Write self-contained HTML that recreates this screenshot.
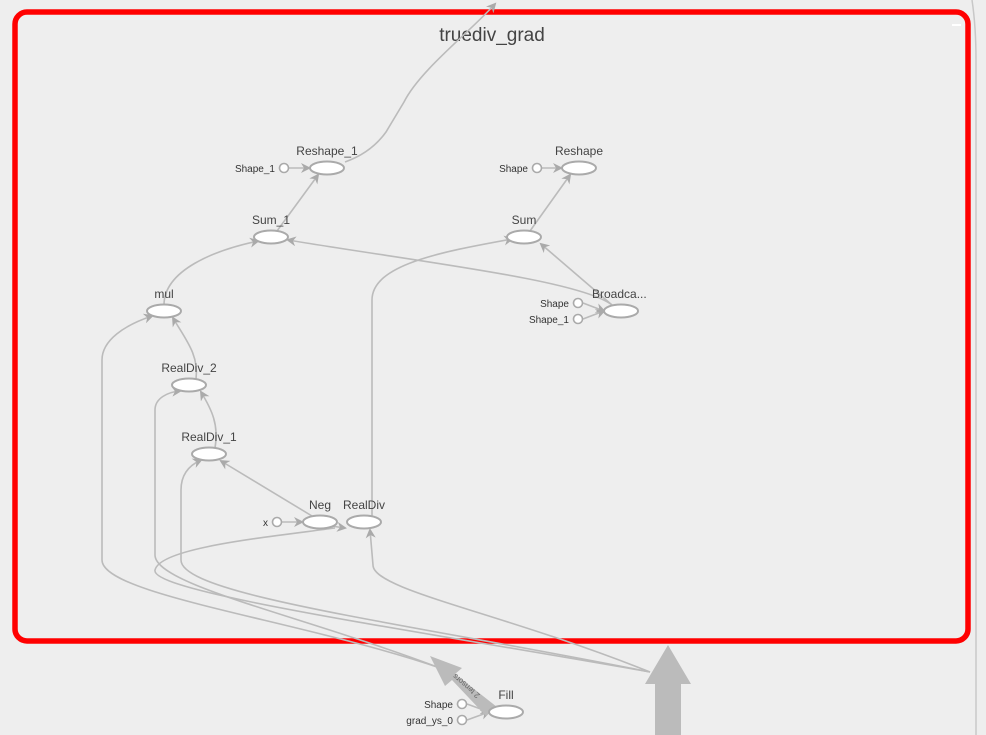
<!DOCTYPE html>
<html><head><meta charset="utf-8"><style>
html,body{margin:0;padding:0;background:#eeeeee;}
svg{display:block;font-family:"Liberation Sans",sans-serif;}
.e{fill:none;stroke:#bbb;stroke-width:1.6;}
.n{fill:#fff;stroke:#aaa;stroke-width:2;}
.c{fill:#fff;stroke:#aaa;stroke-width:1.6;}
.l{fill:#444;font-size:12px;}
.s{fill:#333;font-size:10px;}
</style></head><body>
<svg width="986" height="735" viewBox="0 0 986 735">
<defs>
<marker id="a" markerWidth="10" markerHeight="10" refX="8" refY="5" orient="auto" markerUnits="userSpaceOnUse">
<path d="M0,0 L10,5 L0,10 L3,5 z" fill="#aaa"/></marker>
</defs>
<rect x="0" y="0" width="986" height="735" fill="#eeeeee"/>
<path d="M972,0 C975,20 976,40 976,60 L976,735" fill="none" stroke="#c8c8c8" stroke-width="1.5"/>
<rect x="15" y="12" width="953" height="629" rx="12" fill="#eeeeee" stroke="#ff0000" stroke-width="5.5"/>
<rect x="952" y="24" width="9" height="2" fill="#fff"/>
<text x="492" y="41" text-anchor="middle" fill="#444" font-size="19">truediv_grad</text>

<!-- edges -->
<path class="e" d="M440,668 C300,620 102,595 102,560 L102,360 C102,340 125,325 152,316" marker-end="url(#a)"/>
<path class="e" d="M440,668 C300,615 155,585 155,555 L155,410 C155,398 168,392 180,391" marker-end="url(#a)"/>
<path class="e" d="M650,672 C400,622 181,595 181,560 L181,490 C181,472 192,464 201,460" marker-end="url(#a)"/>
<path class="e" d="M650,672 C400,628 150,592 155,570 C160,548 260,538 335,528"/>
<path class="e" d="M650,672 C500,612 373,590 373,565 L370,530" marker-end="url(#a)"/>
<path class="e" d="M372,516 L372,300 C372,265 440,252 512,239" marker-end="url(#a)"/>
<path class="e" d="M331,526 L345,528" marker-end="url(#a)"/>
<path class="e" d="M312,516 L221,461" marker-end="url(#a)"/>
<path class="e" d="M215,448 C219,425 212,410 201,392" marker-end="url(#a)"/>
<path class="e" d="M196,379 C199,355 186,340 173,318" marker-end="url(#a)"/>
<path class="e" d="M164,305 C164,270 215,250 258,241" marker-end="url(#a)"/>
<path class="e" d="M277,231 L318,175" marker-end="url(#a)"/>
<path class="e" d="M345,162 C362,156 376,146 386,132 L404,102 C420,70 470,32 495,4" marker-end="url(#a)"/>
<path class="e" d="M612,305 C580,280 420,262 288,240" marker-end="url(#a)"/>
<path class="e" d="M612,305 L541,244" marker-end="url(#a)"/>
<path class="e" d="M530,231 L570,175" marker-end="url(#a)"/>
<path class="e" d="M289,168 L309,168" marker-end="url(#a)"/>
<path class="e" d="M542,168 L561,168" marker-end="url(#a)"/>
<path class="e" d="M282,522 L302,522" marker-end="url(#a)"/>
<path class="e" d="M583,303 L604,311" marker-end="url(#a)"/>
<path class="e" d="M583,319 L604,311" marker-end="url(#a)"/>
<path class="e" d="M467,704 L489,712" marker-end="url(#a)"/>
<path class="e" d="M467,720 L489,712" marker-end="url(#a)"/>

<!-- big arrows -->
<path d="M655,735 L655,684 L645,684 L668,645 L691,684 L681,684 L681,735 z" fill="#bbb"/>
<path d="M497,707 L486,716 L452,680 L445,686 L430,656 L462,668 L455,674 z" fill="#bbb"/>
<text x="468" y="684" transform="rotate(221 468 684)" fill="#666" font-size="8" text-anchor="middle">2 tensors</text>

<!-- nodes -->
<ellipse class="n" cx="327" cy="168" rx="17" ry="6.5"/><text class="l" x="327" y="155" text-anchor="middle">Reshape_1</text>
<ellipse class="n" cx="579" cy="168" rx="17" ry="6.5"/><text class="l" x="579" y="155" text-anchor="middle">Reshape</text>
<ellipse class="n" cx="271" cy="237" rx="17" ry="6.5"/><text class="l" x="271" y="224" text-anchor="middle">Sum_1</text>
<ellipse class="n" cx="524" cy="237" rx="17" ry="6.5"/><text class="l" x="524" y="224" text-anchor="middle">Sum</text>
<ellipse class="n" cx="164" cy="311" rx="17" ry="6.5"/><text class="l" x="164" y="298" text-anchor="middle">mul</text>
<ellipse class="n" cx="621" cy="311" rx="17" ry="6.5"/><text class="l" x="592" y="298">Broadca...</text>
<ellipse class="n" cx="189" cy="385" rx="17" ry="6.5"/><text class="l" x="189" y="372" text-anchor="middle">RealDiv_2</text>
<ellipse class="n" cx="209" cy="454" rx="17" ry="6.5"/><text class="l" x="209" y="441" text-anchor="middle">RealDiv_1</text>
<ellipse class="n" cx="320" cy="522" rx="17" ry="6.5"/><text class="l" x="320" y="509" text-anchor="middle">Neg</text>
<ellipse class="n" cx="364" cy="522" rx="17" ry="6.5"/><text class="l" x="364" y="509" text-anchor="middle">RealDiv</text>
<ellipse class="n" cx="506" cy="712" rx="17" ry="6.5"/><text class="l" x="506" y="699" text-anchor="middle">Fill</text>

<!-- const inputs -->
<circle class="c" cx="284" cy="168" r="4.5"/><text class="s" x="275" y="172" text-anchor="end">Shape_1</text>
<circle class="c" cx="537" cy="168" r="4.5"/><text class="s" x="528" y="172" text-anchor="end">Shape</text>
<circle class="c" cx="578" cy="303" r="4.5"/><text class="s" x="569" y="307" text-anchor="end">Shape</text>
<circle class="c" cx="578" cy="319" r="4.5"/><text class="s" x="569" y="323" text-anchor="end">Shape_1</text>
<circle class="c" cx="277" cy="522" r="4.5"/><text class="s" x="268" y="526" text-anchor="end">x</text>
<circle class="c" cx="462" cy="704" r="4.5"/><text class="s" x="453" y="708" text-anchor="end">Shape</text>
<circle class="c" cx="462" cy="720" r="4.5"/><text class="s" x="453" y="724" text-anchor="end">grad_ys_0</text>
</svg>
</body></html>
